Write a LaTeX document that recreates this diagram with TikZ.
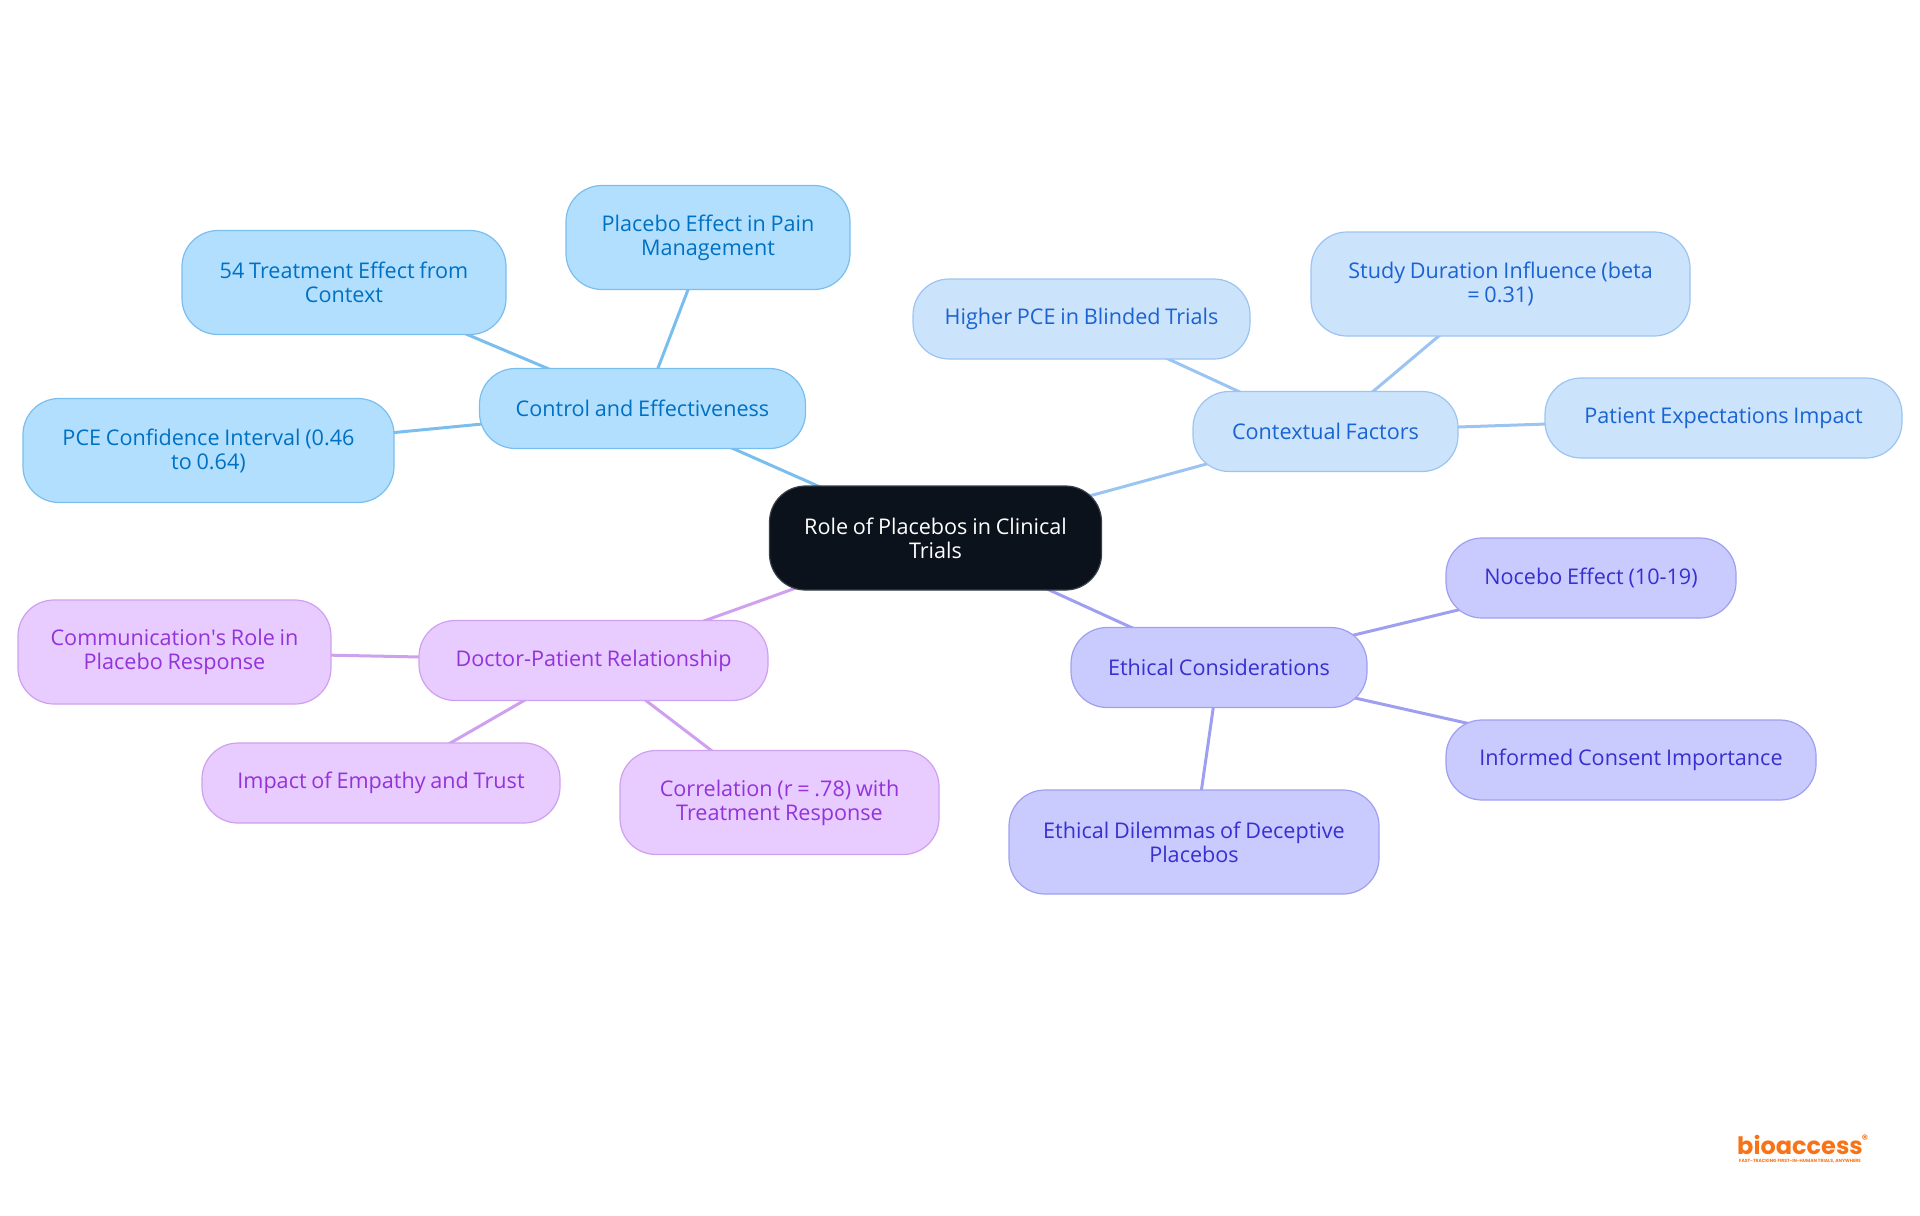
\documentclass[tikz,border=0pt]{standalone}
\usepackage{xcolor}
\usepackage{fontspec}
\setmainfont[WordSpace=0.85]{Open Sans}
\newfontfamily\logofont{Poppins}
\usetikzlibrary{backgrounds}
\definecolor{rootfill}{HTML}{0B121B}
\definecolor{rootline}{HTML}{3A4048}
\definecolor{ctrlfill}{HTML}{B3DFFF}
\definecolor{ctrlline}{HTML}{7ABEEE}
\definecolor{ctrltext}{HTML}{0071C2}
\definecolor{contfill}{HTML}{CCE3FC}
\definecolor{contline}{HTML}{9CC4F2}
\definecolor{conttext}{HTML}{1A63D2}
\definecolor{ethifill}{HTML}{C9CBFF}
\definecolor{ethiline}{HTML}{9E9FF0}
\definecolor{ethitext}{HTML}{372FD0}
\definecolor{doctfill}{HTML}{E8CBFF}
\definecolor{doctline}{HTML}{CFA0EE}
\definecolor{docttext}{HTML}{9333DA}
\definecolor{logoorange}{HTML}{F97316}

\begin{document}
\begin{tikzpicture}[x=0.5pt,y=0.5pt]
		\tikzstyle{every node}=[font=\fontsize{10.8}{12}\selectfont, align=center, inner sep=0pt, rounded corners=18pt, line width=0.6pt]
		\tikzstyle{rootbox}=[draw=rootline, fill=rootfill, text=white]
		\tikzstyle{ctrlbox}=[draw=ctrlline, fill=ctrlfill, text=ctrltext]
		\tikzstyle{contbox}=[draw=contline, fill=contfill, text=conttext]
		\tikzstyle{ethibox}=[draw=ethiline, fill=ethifill, text=ethitext]
		\tikzstyle{doctbox}=[draw=doctline, fill=doctfill, text=docttext]
		\tikzstyle{branch}=[line width=1.5pt]
		\useasboundingbox (0,0) rectangle (1920,-1215);
		\node [rootbox, minimum width=166pt, minimum height=52pt] (root) at (935.5,-538) {Role of Placebos in Clinical\\Trials};
		\node [ctrlbox, minimum width=163pt, minimum height=40pt] (control) at (642.5,-408.5) {Control and Effectiveness};
		\node [ctrlbox, minimum width=142pt, minimum height=52pt] (pain) at (708,-237.5) {Placebo Effect in Pain\\Management};
		\node [ctrlbox, minimum width=162pt, minimum height=52pt] (context) at (344,-282.5) {54 Treatment Effect from\\Context};
		\node [ctrlbox, minimum width=185.5pt, minimum height=52pt] (interval) at (208.5,-450.5) {PCE Confidence Interval (0.46\\to 0.64)};
		\node [contbox, minimum width=132.5pt, minimum height=40pt] (factors) at (1325.5,-431.5) {Contextual Factors};
		\node [contbox, minimum width=168.5pt, minimum height=40pt] (blinded) at (1081.5,-319) {Higher PCE in Blinded Trials};
		\node [contbox, minimum width=189.5pt, minimum height=52pt] (duration) at (1500.5,-284) {Study Duration Influence (beta\\= 0.31)};
		\node [contbox, minimum width=178.5pt, minimum height=40pt] (expect) at (1723.5,-418) {Patient Expectations Impact};
		\node [ethibox, minimum width=148pt, minimum height=40pt] (ethics) at (1219,-667.5) {Ethical Considerations};
		\node [ethibox, minimum width=145pt, minimum height=40pt] (nocebo) at (1591,-578) {Nocebo Effect (10-19)};
		\node [ethibox, minimum width=185pt, minimum height=40pt] (consent) at (1631,-760) {Informed Consent Importance};
		\node [ethibox, minimum width=185pt, minimum height=52pt] (dilemma) at (1194,-842) {Ethical Dilemmas of Deceptive\\Placebos};
		\node [doctbox, minimum width=174.5pt, minimum height=40pt] (doctor) at (593.5,-660.5) {Doctor-Patient Relationship};
		\node [doctbox, minimum width=156.5pt, minimum height=52pt] (speech) at (174.5,-652) {Communication\textquotesingle s Role in\\Placebo Response};
		\node [doctbox, minimum width=179pt, minimum height=40pt] (empathy) at (381,-783) {Impact of Empathy and Trust};
		\node [doctbox, minimum width=159.5pt, minimum height=52pt] (correl) at (779.5,-802.5) {Correlation (r = .78) with\\Treatment Response};
		\node [font=\logofont\bfseries\fontsize{12}{12}\selectfont, text=logoorange] (logo) at (1800,-1145) {bioaccess};
		\node [font=\logofont\bfseries\fontsize{2.25}{2.5}\selectfont, text=logoorange] (tagline) at (1800,-1161.5) {FAST-TRACKING FIRST-IN-HUMAN TRIALS, ANYWHERE};
		\node [font=\logofont\bfseries\fontsize{6}{6}\selectfont, text=logoorange] (regmark) at (1865,-1139) {®};
		\begin{pgfonlayer}{background}
			\draw [branch, ctrlline] (root.center) -- (control.center);
			\draw [branch, ctrlline] (control.center) -- (pain.center);
			\draw [branch, ctrlline] (control.center) -- (context.center);
			\draw [branch, ctrlline] (control.center) -- (interval.center);
			\draw [branch, contline] (root.center) -- (factors.center);
			\draw [branch, contline] (factors.center) -- (blinded.center);
			\draw [branch, contline] (factors.center) -- (duration.center);
			\draw [branch, contline] (factors.center) -- (expect.center);
			\draw [branch, ethiline] (root.center) -- (ethics.center);
			\draw [branch, ethiline] (ethics.center) -- (nocebo.center);
			\draw [branch, ethiline] (ethics.center) -- (consent.center);
			\draw [branch, ethiline] (ethics.center) -- (dilemma.center);
			\draw [branch, doctline] (root.center) -- (doctor.center);
			\draw [branch, doctline] (doctor.center) -- (speech.center);
			\draw [branch, doctline] (doctor.center) -- (empathy.center);
			\draw [branch, doctline] (doctor.center) -- (correl.center);
		\end{pgfonlayer}
		\end{tikzpicture}
\end{document}
